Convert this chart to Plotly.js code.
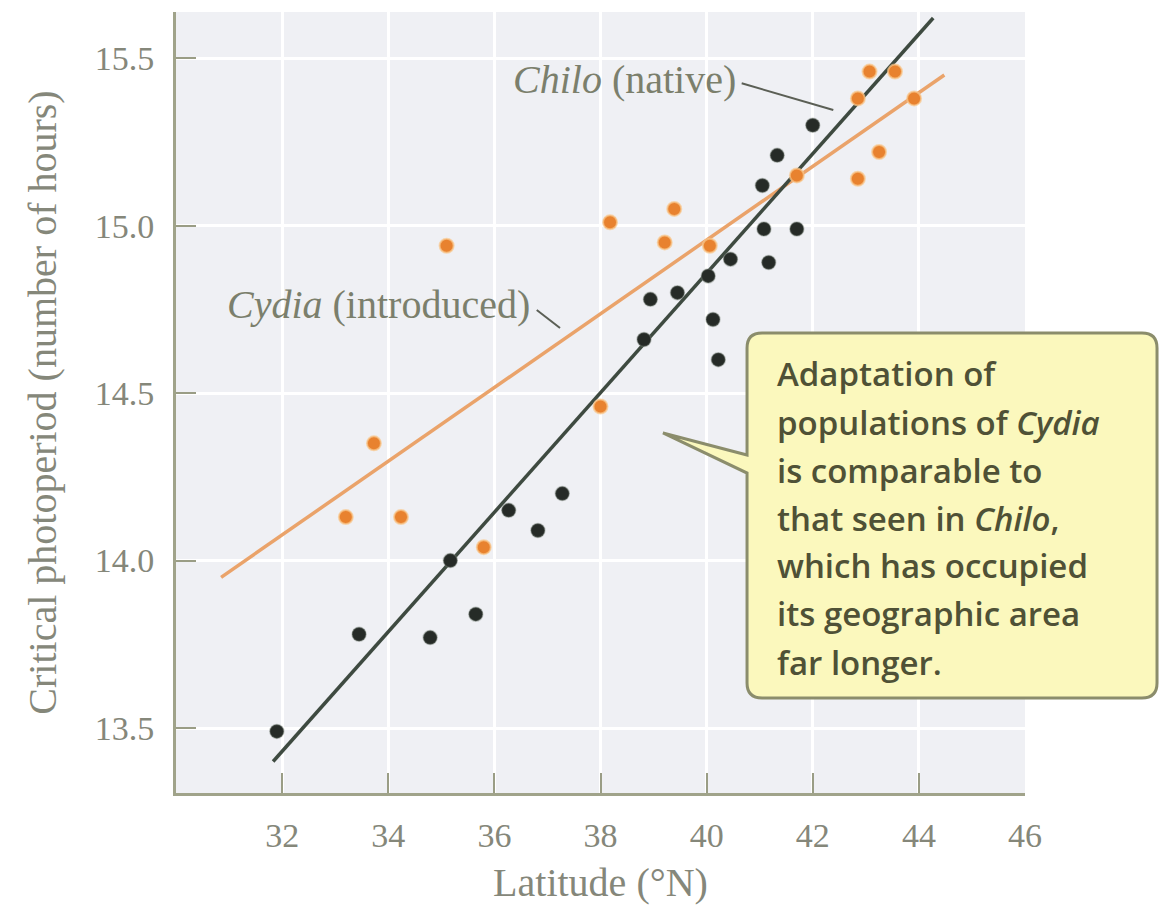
<!DOCTYPE html>
<html>
<head>
<meta charset="utf-8">
<script src="https://cdn.plot.ly/plotly-3.0.1.min.js"></script>
<style>html,body{margin:0;padding:0;background:#fff;}#chart{width:1159px;height:908px;}</style>
</head>
<body>
<div id="chart"></div>
<script>
// Chilo (native) populations: latitude (°N) and critical photoperiod (hours)
const chiloLat   = [31.9, 33.45, 34.79, 35.17, 35.65, 36.27, 36.82, 37.28, 38.82, 38.94, 39.45, 40.03, 40.12, 40.22, 40.45, 41.05, 41.08, 41.17, 41.33, 41.70, 42.0];
const chiloHours = [13.49, 13.78, 13.77, 14.0, 13.84, 14.15, 14.09, 14.20, 14.66, 14.78, 14.80, 14.85, 14.72, 14.60, 14.90, 15.12, 14.99, 14.89, 15.21, 14.99, 15.30];

// Cydia (introduced) populations
const cydiaLat   = [33.2, 33.73, 34.24, 35.1, 35.8, 38.0, 38.18, 39.21, 39.39, 40.06, 41.7, 42.85, 42.85, 43.07, 43.25, 43.55, 43.91];
const cydiaHours = [14.13, 14.35, 14.13, 14.94, 14.04, 14.46, 15.01, 14.95, 15.05, 14.94, 15.15, 15.14, 15.38, 15.46, 15.22, 15.46, 15.38];

// Fitted regression lines (end points)
const chiloFitLat   = [31.83, 44.27];
const chiloFitHours = [13.40, 15.62];
const cydiaFitLat   = [30.85, 44.48];
const cydiaFitHours = [13.95, 15.45];

// Tick values / labels
const xTicks = [32, 34, 36, 38, 40, 42, 44, 46];
const yTicks = [13.5, 14.0, 14.5, 15.0, 15.5];
const yTickText = ['13.5', '14.0', '14.5', '15.0', '15.5'];

const calloutLines = [
  'Adaptation of',
  'populations of <i>Cydia</i>',
  'is comparable to',
  'that seen in <i>Chilo</i>,',
  'which has occupied',
  'its geographic area',
  'far longer.'
];

const tickFont = {family: 'Liberation Serif, serif', size: 34, color: '#85877a'};
const titleFont = {family: 'Liberation Serif, serif', size: 40, color: '#85877a'};

const traces = [
  {x: cydiaFitLat, y: cydiaFitHours, mode: 'lines', name: 'Cydia fit',
   line: {color: '#eaa36a', width: 3.5}, hoverinfo: 'skip'},
  {x: chiloFitLat, y: chiloFitHours, mode: 'lines', name: 'Chilo fit',
   line: {color: '#3e4a40', width: 3.5}, hoverinfo: 'skip'},
  {x: chiloLat, y: chiloHours, mode: 'markers', name: 'Chilo (native)',
   marker: {color: '#262b27', size: 14, line: {color: 'rgba(120,130,120,0.4)', width: 1.5}}},
  {x: cydiaLat, y: cydiaHours, mode: 'markers', name: 'Cydia (introduced)',
   marker: {color: '#e8822f', size: 14, line: {color: 'rgba(250,200,140,0.7)', width: 2}}}
];

// callout box geometry in paper coordinates
const bx0 = 0.6726, bx1 = 1.1555, byT = 0.589, byB = 0.1216, rx = 0.0177, ry = 0.0192;
const tipX = 0.5736, tipY = 0.461, wedgeHi = 0.4328, wedgeLo = 0.4097;
const boxPath = `M ${bx0+rx},${byT} L ${bx1-rx},${byT} Q ${bx1},${byT} ${bx1},${byT-ry} ` +
  `L ${bx1},${byB+ry} Q ${bx1},${byB} ${bx1-rx},${byB} L ${bx0+rx},${byB} Q ${bx0},${byB} ${bx0},${byB+ry} ` +
  `L ${bx0},${wedgeLo} L ${tipX},${tipY} L ${bx0},${wedgeHi} L ${bx0},${byT-ry} Q ${bx0},${byT} ${bx0+rx},${byT} Z`;

const lineYs = [0.5365, 0.4750, 0.4135, 0.3521, 0.2907, 0.2292, 0.1677];
const annotations = calloutLines.map((t, i) => ({
  xref: 'paper', yref: 'paper', x: 0.706, y: lineYs[i], xanchor: 'left', yanchor: 'middle',
  text: t, showarrow: false,
  font: {family: 'Open Sans, Lato, sans-serif', size: 33, weight: 600, color: '#4f5136'}
}));
annotations.push(
  {xref: 'paper', yref: 'paper', x: 0.662, y: 0.913, xanchor: 'right', yanchor: 'middle',
   text: '<i>Chilo</i> (native)', showarrow: false, font: {family: 'Liberation Serif, serif', size: 40, color: '#7b7f6c'}},
  {xref: 'paper', yref: 'paper', x: 0.419, y: 0.625, xanchor: 'right', yanchor: 'middle',
   text: '<i>Cydia</i> (introduced)', showarrow: false, font: {family: 'Liberation Serif, serif', size: 40, color: '#7b7f6c'}}
);

const layout = {
  width: 1159, height: 908,
  margin: {l: 176, r: 134, t: 12, b: 115},
  paper_bgcolor: '#ffffff',
  plot_bgcolor: '#eff0f4',
  showlegend: false,
  xaxis: {
    range: [30, 46], tickvals: xTicks, ticktext: xTicks.map(String),
    ticks: 'inside', ticklen: 20, tickwidth: 2, tickcolor: '#9a9d85',
    showline: true, linecolor: '#a0a38a', linewidth: 3, mirror: false,
    showgrid: true, gridcolor: '#ffffff', gridwidth: 3, zeroline: false,
    tickfont: tickFont, ticklabelstandoff: 10,
    title: {text: 'Latitude (°N)', font: titleFont, standoff: 16}
  },
  yaxis: {
    range: [13.306, 15.638], tickvals: yTicks, ticktext: yTickText,
    ticks: 'inside', ticklen: 20, tickwidth: 2, tickcolor: '#9a9d85',
    showline: true, linecolor: '#a0a38a', linewidth: 3, mirror: false,
    showgrid: true, gridcolor: '#ffffff', gridwidth: 3, zeroline: false,
    tickfont: tickFont, ticklabelstandoff: 12,
    title: {text: 'Critical photoperiod (number of hours)', font: titleFont, standoff: 26}
  },
  shapes: [
    {type: 'path', xref: 'paper', yref: 'paper', path: boxPath,
     fillcolor: '#fbf8bd', line: {color: '#8b8d6c', width: 3}, layer: 'above'},
    {type: 'line', xref: 'paper', yref: 'paper', x0: 0.6663, y0: 0.9087, x1: 0.7742, y1: 0.8745,
     line: {color: '#5b5f55', width: 2}},
    {type: 'line', xref: 'paper', yref: 'paper', x0: 0.4249, y0: 0.6184, x1: 0.4523, y1: 0.5954,
     line: {color: '#5b5f55', width: 2}}
  ],
  annotations: annotations
};

Plotly.newPlot('chart', traces, layout, {displayModeBar: false, staticPlot: true});
</script>
</body>
</html>
